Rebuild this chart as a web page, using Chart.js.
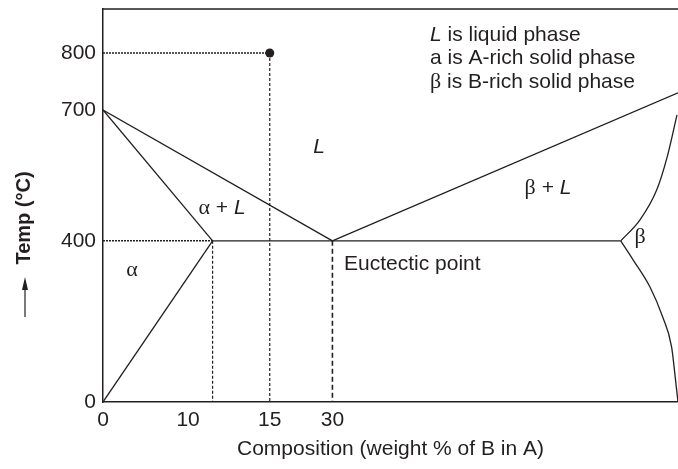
<!DOCTYPE html>
<html>
<head>
<meta charset="utf-8">
<script src="https://cdn.jsdelivr.net/npm/chart.js@4.4.1/dist/chart.umd.min.js"></script>
<style>
  html, body { margin: 0; padding: 0; background: #fff; }
  #wrap { width: 678px; height: 469px; position: relative; }
</style>
</head>
<body>
<div id="wrap"><canvas id="phaseChart"></canvas></div>
<script>
// tick labels (composition in weight % of B, temperature in °C)
const xTicks = [0, 10, 15, 30];
const yTicks = [0, 400, 700, 800];

// key points of the diagram
const meltA = { x: 0, y: 700 };
const eutectic = { x: 30, y: 400 };
const alphaMax = { x: 11.5, y: 400 };
const betaMin = { x: 88.4, y: 400 };
const alloyPoint = { x: 15, y: 800 };

// right hand side boundaries
const liquidusB = [{ x: 30, y: 400 }, { x: 100, y: 730 }];
const betaSolidus = [
    { x: 88.4, y: 400 }, { x: 92.3, y: 448 }, { x: 95.7, y: 517 },
    { x: 97.8, y: 592 }, { x: 99.8, y: 689 }
];
const betaSolvus = [
    { x: 88.4, y: 400 }, { x: 90.9, y: 353 }, { x: 94.3, y: 286 },
    { x: 96.9, y: 211 }, { x: 98.7, y: 137 }, { x: 99.5, y: 55 }, { x: 100, y: 0 }
];

// the drawing is schematic, so each axis is stretched piecewise between its labels
const scaleKnots = {
    x: [[0, 0], [10, 0.148], [15, 0.29], [30, 0.399], [100, 1]],
    y: [[0, 0], [400, 0.41], [700, 0.743], [800, 0.888], [900, 1]]
};

function warp(knots, v) {
    for (let i = 1; i < knots.length; i++) {
        const [v0, d0] = knots[i - 1];
        const [v1, d1] = knots[i];
        if (v <= v1 || i === knots.length - 1) return d0 + (v - v0) / (v1 - v0) * (d1 - d0);
    }
}
function unwarp(knots, d) {
    for (let i = 1; i < knots.length; i++) {
        const [v0, d0] = knots[i - 1];
        const [v1, d1] = knots[i];
        if (d <= d1 || i === knots.length - 1) return v0 + (d - d0) / (d1 - d0) * (v1 - v0);
    }
}

class SketchScale extends Chart.LinearScale {
    getPixelForValue(value) {
        if (value === null || value === undefined || isNaN(value)) return NaN;
        return this.getPixelForDecimal(warp(scaleKnots[this.axis], value));
    }
    getValueForPixel(pixel) {
        return unwarp(scaleKnots[this.axis], this.getDecimalForPixel(pixel));
    }
    buildTicks() {
        return (this.axis === 'x' ? xTicks : yTicks).map(v => ({ value: v }));
    }
}
SketchScale.id = 'sketch';
SketchScale.defaults = Chart.LinearScale.defaults;
Chart.register(SketchScale);

const INK = '#231f20';
const SANS = "'Liberation Sans', Arial, sans-serif";
const SERIF = "'Liberation Serif', 'Times New Roman', serif";

function solid(data, width) {
    return { data, borderColor: INK, borderWidth: width || 1.3, showLine: true, pointRadius: 0, tension: 0 };
}
function dashed(data, dash, width) {
    return { data, borderColor: INK, borderWidth: width || 1.2, borderDash: dash, showLine: true, pointRadius: 0 };
}
function curve(data) {
    return { data, borderColor: INK, borderWidth: 1.3, showLine: true, pointRadius: 0, cubicInterpolationMode: 'monotone' };
}

function drawRuns(ctx, runs, x, y, align) {
    let total = 0;
    runs.forEach(r => { ctx.font = r.font; r.w = ctx.measureText(r.text).width; total += r.w; });
    let cx = align === 'center' ? x - total / 2 : x;
    ctx.textAlign = 'left';
    ctx.textBaseline = 'middle';
    runs.forEach(r => { ctx.font = r.font; ctx.fillText(r.text, cx, y); cx += r.w; });
}

const n = '21px ' + SANS;
const it = 'italic 21px ' + SANS;
const gr = '22px ' + SERIF;

function noPad(s) {
    s.paddingTop = 0;
    s.paddingBottom = 0;
    s.paddingLeft = 0;
    s.paddingRight = 0;
}

const notes = {
    id: 'notes',
    afterDraw(chart) {
        const ctx = chart.ctx;
        const a = chart.chartArea;
        ctx.save();
        ctx.strokeStyle = INK;
        ctx.fillStyle = INK;
        ctx.lineWidth = 1.5;
        ctx.beginPath();
        ctx.moveTo(a.left, a.top);
        ctx.lineTo(a.right, a.top);
        ctx.stroke();

        drawRuns(ctx, [{ text: 'L', font: it }], 319, 147, 'center');
        drawRuns(ctx, [{ text: 'α', font: gr }, { text: ' + ', font: n }, { text: 'L', font: it }], 222, 208, 'center');
        drawRuns(ctx, [{ text: 'α', font: gr }], 132, 270, 'center');
        drawRuns(ctx, [{ text: 'β', font: gr }, { text: ' + ', font: n }, { text: 'L', font: it }], 548, 188, 'center');
        drawRuns(ctx, [{ text: 'β', font: gr }], 640, 237, 'center');
        drawRuns(ctx, [{ text: 'Euctectic point', font: n }], 344, 264, 'left');

        drawRuns(ctx, [{ text: 'L', font: it }, { text: ' is liquid phase', font: n }], 430, 35, 'left');
        drawRuns(ctx, [{ text: 'a is A-rich solid phase', font: n }], 430, 58, 'left');
        drawRuns(ctx, [{ text: 'β', font: gr }, { text: ' is B-rich solid phase', font: n }], 430, 82, 'left');

        // rotated axis title with its arrow
        ctx.save();
        ctx.translate(24, 218);
        ctx.rotate(-Math.PI / 2);
        ctx.font = 'bold 20px ' + SANS;
        ctx.textAlign = 'center';
        ctx.textBaseline = 'middle';
        ctx.fillText('Temp (°C)', 0, 0);
        ctx.restore();
        ctx.lineWidth = 1.2;
        ctx.beginPath();
        ctx.moveTo(25, 317);
        ctx.lineTo(25, 284);
        ctx.stroke();
        ctx.beginPath();
        ctx.moveTo(25, 277);
        ctx.lineTo(28, 290);
        ctx.lineTo(22, 290);
        ctx.closePath();
        ctx.fill();
        ctx.restore();
    }
};

new Chart(document.getElementById('phaseChart'), {
    type: 'scatter',
    data: {
        datasets: [
            solid([meltA, eutectic]),
            solid([meltA, alphaMax]),
            solid([alphaMax, { x: 0, y: 0 }]),
            solid([alphaMax, betaMin]),
            solid(liquidusB),
            curve(betaSolidus),
            curve(betaSolvus),
            dashed([{ x: 0, y: 400 }, alphaMax], [2, 1], 1.5),
            dashed([{ x: 0, y: 800 }, alloyPoint], [2, 1], 1.5),
            dashed([alloyPoint, { x: 15, y: 0 }], [3, 2]),
            dashed([alphaMax, { x: 11.5, y: 0 }], [3, 2]),
            dashed([eutectic, { x: 30, y: 0 }], [5, 3], 1.6),
            { data: [alloyPoint], pointRadius: 4.5, pointBackgroundColor: INK, pointBorderWidth: 0, showLine: false }
        ]
    },
    options: {
        responsive: true,
        maintainAspectRatio: false,
        animation: false,
        layout: { autoPadding: false, padding: { top: 9, right: 0, left: 0, bottom: 0 } },
        plugins: { legend: { display: false }, tooltip: { enabled: false } },
        scales: {
            x: {
                type: 'sketch',
                min: 0,
                max: 100,
                afterFit: (s) => { s.height = 67; noPad(s); },
                grid: { display: false, drawTicks: false },
                border: { display: true, color: INK, width: 1.5 },
                ticks: { autoSkip: false, maxRotation: 0, padding: 6, color: INK, font: { family: SANS, size: 21 }, callback: (v) => String(v) },
                title: { display: true, text: 'Composition (weight % of B in A)', color: INK, font: { family: SANS, size: 21 }, padding: { bottom: 7 } }
            },
            y: {
                type: 'sketch',
                min: 0,
                max: 900,
                afterFit: (s) => { s.width = 103; noPad(s); },
                grid: { display: false, drawTicks: false },
                border: { display: true, color: INK, width: 1.5 },
                ticks: { autoSkip: false, padding: 7, color: INK, font: { family: SANS, size: 21 }, callback: (v) => String(v) }
            }
        }
    },
    plugins: [notes]
});
</script>
</body>
</html>
